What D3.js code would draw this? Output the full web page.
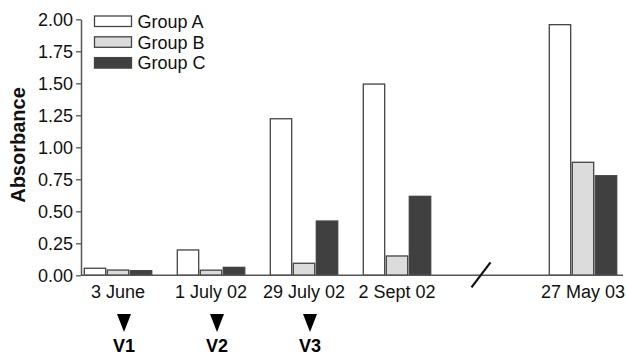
<!DOCTYPE html>
<html><head><meta charset="utf-8">
<script src="https://cdn.jsdelivr.net/npm/d3@7"></script>
<style>
html,body{margin:0;padding:0;background:#fff;}
svg{display:block;font-family:"Liberation Sans",Arial,Helvetica,sans-serif;}
</style></head>
<body>
<svg id="chart" width="626" height="357"></svg>
<script>
const categories = ["3 June","1 July 02","29 July 02","2 Sept 02","break","27 May 03"];
const groups = ["Group A","Group B","Group C"];
const groupA = [0.055, 0.198, 1.223, 1.494, null, 1.958];
const groupB = [0.041, 0.040, 0.094, 0.151, null, 0.883];
const groupC = [0.036, 0.062, 0.424, 0.617, null, 0.778];
const yTicks = [0, 0.25, 0.5, 0.75, 1.0, 1.25, 1.5, 1.75, 2.0];
const markers = [{cat:"3 June",label:"V1"},{cat:"1 July 02",label:"V2"},{cat:"29 July 02",label:"V3"}];
const fills = ["#ffffff","#dcdcdc","#404040"];

const svg = d3.select("#chart");
const y = d3.scaleLinear().domain([0,2]).range([275.3,19.3]);
const x0 = d3.scaleBand().domain(categories).range([84.3,616.7]).paddingInner(0.275).paddingOuter(0);
const x1 = d3.scaleBand().domain(groups).range([0,x0.bandwidth()]).paddingInner(0.07);
const series = [groupA, groupB, groupC];

// y axis
const yAxis = svg.append("g").attr("transform","translate(81,0)")
  .call(d3.axisLeft(y).tickValues(yTicks).tickFormat(d3.format(".2f")).tickSize(5).tickSizeOuter(0).tickPadding(3));
yAxis.select(".domain").attr("stroke","#555").attr("stroke-width",1.5);
yAxis.selectAll(".tick line").attr("stroke","#555").attr("stroke-width",1.3);
yAxis.selectAll("text").attr("font-size",18).attr("fill","#111").attr("font-family","'Liberation Sans',Arial,sans-serif");

// y label
svg.append("text").attr("transform","translate(25,145) rotate(-90)")
  .attr("text-anchor","middle").attr("font-size",20).attr("font-weight","bold").attr("fill","#111")
  .text("Absorbance");

// bars
categories.forEach((c,i)=>{
  if (c==="break") return;
  const g = svg.append("g").attr("transform",`translate(${x0(c)},0)`);
  groups.forEach((gr,j)=>{
    const v = series[j][i];
    g.append("rect").attr("x",x1(gr)).attr("y",y(v)).attr("width",x1.bandwidth())
      .attr("height",y(0)-y(v)).attr("fill",fills[j]).attr("stroke","#444").attr("stroke-width",1.3);
  });
});

// x axis line
svg.append("line").attr("x1",81).attr("x2",623).attr("y1",y(0)).attr("y2",y(0))
  .attr("stroke","#555").attr("stroke-width",1.5);
const xAxis = svg.append("g").attr("transform",`translate(0,${y(0)})`)
  .call(d3.axisBottom(x0).tickSize(0).tickPadding(10).tickFormat(d=>d==="break"?"":d));
xAxis.select(".domain").remove();
xAxis.selectAll("text").attr("font-size",18).attr("fill","#111").attr("font-family","'Liberation Sans',Arial,sans-serif");

// break slash
const bx = x0("break") + x0.bandwidth()/2 - 9;
svg.append("line").attr("x1",bx-9.5).attr("y1",y(0)+12).attr("x2",bx+9.5).attr("y2",y(0)-13)
  .attr("stroke","#111").attr("stroke-width",2.2);

// markers
markers.forEach(m=>{
  const cx = x0(m.cat) + x0.bandwidth()/2 + 6;
  svg.append("path").attr("d",`M${cx-7},314 L${cx+7},314 L${cx},332 Z`).attr("fill","#000");
  svg.append("text").attr("x",cx).attr("y",352).attr("text-anchor","middle")
    .attr("font-size",18).attr("font-weight","bold").attr("fill","#000").text(m.label);
});

// legend
const lg = svg.append("g");
groups.forEach((gr,j)=>{
  const yy = 16 + j*20.8;
  lg.append("rect").attr("x",94.5).attr("y",yy).attr("width",37).attr("height",10.5)
    .attr("fill",fills[j]).attr("stroke","#444").attr("stroke-width",1.3);
  lg.append("text").attr("x",137.5).attr("y",yy+5.5).attr("dy","0.35em").attr("font-size",18).attr("fill","#111").text(gr);
});
</script>
</body></html>
